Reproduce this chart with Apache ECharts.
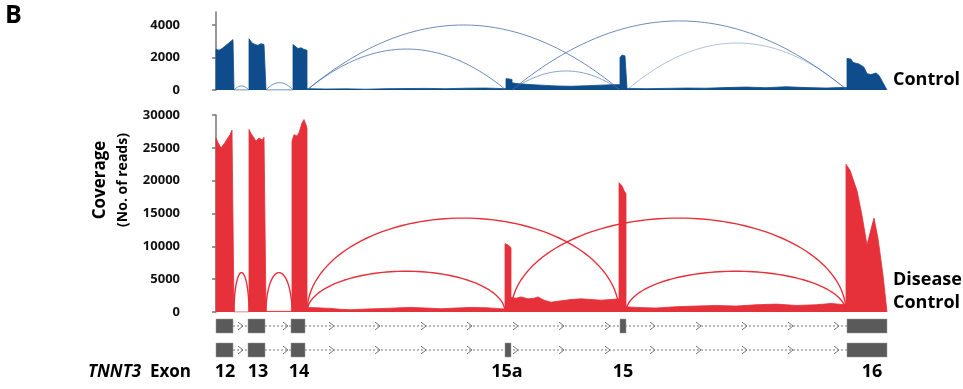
<!DOCTYPE html>
<html>
<head>
<meta charset="utf-8">
<script src="https://cdn.jsdelivr.net/npm/echarts@6/dist/echarts.min.js"></script>
<style>
  html, body { margin: 0; padding: 0; background: #fff; }
  #chart { width: 963px; height: 389px; }
</style>
</head>
<body>
<div id="chart"></div>
<script>
// positions are offsets along the TNNT3 region (exon 12 start = 0)
const controlCoverage = [
  [0,0],[0,2500],[3,2450],[6,2550],[9,2700],[11,2800],[14,2950],[17,3100],[18,3150],[18,0],
  [33,0],[33,3150],[36,2900],[39,2800],[42,2750],[45,2850],[48,2800],[50,2850],[50,0],
  [77,0],[77,2800],[79,2700],[82,2550],[85,2600],[88,2500],[91,2450],[91,80],
  [110,60],[130,70],[150,50],[170,80],[190,90],[210,100],[230,80],[250,110],[270,120],[280,100],[290,80],
  [290,700],[293,680],[296,650],[296,450],[300,400],[310,350],[325,300],[340,250],[355,230],[370,260],[385,300],[395,320],[404,330],
  [404,2000],[406,2150],[409,2100],[411,2000],[411,100],
  [430,80],[450,100],[470,120],[490,110],[510,150],[530,180],[550,140],[570,200],[590,150],[610,120],[625,150],[631,160],
  [631,1950],[635,1900],[637,1700],[643,1600],[648,1400],[651,1000],[655,950],[660,1050],[663,900],[667,450],[671,0]
];
const diseaseCoverage = [
  [0,0],[0,26500],[2,25800],[5,25000],[8,25600],[11,26300],[14,27000],[16,27700],[18,27800],[18,0],
  [33,0],[33,27800],[35,27200],[38,26500],[40,26000],[43,26500],[46,26200],[48,26600],[50,26400],[50,100],
  [76,100],[76,26000],[78,27000],[81,26800],[83,27300],[86,28800],[88,29300],[90,28500],[91,28000],[91,700],
  [100,650],[115,550],[125,400],[135,350],[150,450],[170,550],[185,650],[195,700],[210,600],[225,500],[240,600],[255,700],[270,650],[280,550],[289,450],
  [289,10400],[292,10200],[295,9800],[295,2200],[300,2100],[305,2300],[312,2000],[318,2100],[322,2300],[328,1800],[335,1500],[345,1700],[355,1900],[365,2000],[375,1900],[385,1800],[395,1900],[403,2000],
  [403,19700],[406,19200],[408,18500],[410,18000],[410,800],
  [420,700],[440,600],[460,800],[480,900],[500,1000],[520,900],[540,1100],[560,1200],[580,1000],[600,1100],[615,1300],[630,1100],
  [630,22500],[634,21600],[638,19800],[641,18500],[646,14700],[651,10200],[656,13200],[658,14300],[662,11200],[667,5600],[671,0]
];
// junctions: [from, to, arc height in reads]
const controlJunctions = [[18,33,250],[50,77,450],[91,290,2520],[91,404,4000],[296,404,1170],[296,631,4250],[411,631,2890]];
const controlJunctionShade = [0.8,0.8,0.75,0.75,0.6,0.75,0.4];
const diseaseJunctions = [[18,33,6000],[50,76,6000],[91,289,6200],[91,403,14300],[295,630,14300],[410,630,6200]];

const controlTicks = [0, 2000, 4000];
const diseaseTicks = [0, 5000, 10000, 15000, 20000, 25000, 30000];

const modelRows = ['with15', 'with15a', 'names'];
const exonsWith15 = [[0,17],[32,49],[75,89],[404,410],[631,671]];
const exonsWith15a = [[0,17],[32,49],[75,89],[289,295],[631,671]];
const intronSpan = [17, 631];
const chevronPos = [25,70,116,162,208,254,300,346,392,437,483,529,575,621];
const exonNames = ['12','13','14','15a','15','16'];
const exonNamePos = [9,42,83,291,407,656];

const BLUE = '#0f4c8c';
const RED = '#e6303a';
const FONT = '"Open Sans", sans-serif';

function arcSeries(data, gridIdx, shape, colorFn, width) {
  return {
    type: 'custom', xAxisIndex: gridIdx, yAxisIndex: gridIdx, silent: true, z: 5,
    encode: {x: [0, 1], y: 2},
    data: data,
    renderItem: (params, api) => {
      const a = api.coord([api.value(0), 0]);
      const b = api.coord([api.value(1), 0]);
      const top = api.coord([api.value(0), api.value(2)]);
      const ry = a[1] - top[1];
      const cx = (a[0] + b[0]) / 2, rx = (b[0] - a[0]) / 2;
      const pts = [];
      for (let i = 0; i <= 80; i++) {
        const t = i / 80;
        if (shape === 'ellipse') {
          const th = Math.PI * t;
          pts.push([cx - rx * Math.cos(th), a[1] - ry * Math.sin(th)]);
        } else {
          pts.push([a[0] + (b[0] - a[0]) * t, a[1] - ry * 4 * t * (1 - t)]);
        }
      }
      return {type: 'polyline', shape: {points: pts}, style: {stroke: colorFn(params.dataIndex), fill: null, lineWidth: width}};
    }
  };
}

const yAxisBase = (max, ticks, idx) => ({
  type: 'value', gridIndex: idx, min: 0, max: max,
  splitLine: {show: false},
  axisLine: {show: true, lineStyle: {color: '#777', width: 1.5}},
  axisTick: {show: true, length: 4, customValues: ticks, lineStyle: {color: '#777', width: 1.5}},
  axisLabel: {customValues: ticks, formatter: v => String(v), color: '#111', fontWeight: 'bold', fontSize: 13, fontFamily: FONT, margin: 3}
});

const xAxisBase = idx => ({type: 'value', gridIndex: idx, min: -33, max: 671, show: false});

const geneData = exonsWith15.map(e => [e[0], e[1], 0]).concat(exonsWith15a.map(e => [e[0], e[1], 1]));

const option = {
  animation: false,
  grid: [
    {left: 183, width: 704, top: 12, height: 78},
    {left: 183, width: 704, top: 115, height: 197},
    {left: 183, width: 704, top: 314, height: 72}
  ],
  xAxis: [xAxisBase(0), xAxisBase(1), xAxisBase(2)],
  yAxis: [
    yAxisBase(4800, controlTicks, 0),
    yAxisBase(30000, diseaseTicks, 1),
    {type: 'category', gridIndex: 2, data: modelRows, inverse: true, show: false}
  ],
  series: [
    {
      type: 'line', xAxisIndex: 0, yAxisIndex: 0, data: controlCoverage, symbol: 'none', silent: true,
      lineStyle: {color: BLUE, width: 0.8}, areaStyle: {color: BLUE, opacity: 1}
    },
    {
      type: 'line', xAxisIndex: 1, yAxisIndex: 1, data: diseaseCoverage, symbol: 'none', silent: true,
      lineStyle: {color: RED, width: 0.8}, areaStyle: {color: RED, opacity: 1}
    },
    arcSeries(controlJunctions, 0, 'parabola', i => 'rgba(60,100,165,' + controlJunctionShade[i] + ')', 1),
    arcSeries(diseaseJunctions, 1, 'ellipse', () => RED, 1.4),
    {
      // intron backbone with direction chevrons
      type: 'custom', xAxisIndex: 2, yAxisIndex: 2, silent: true,
      data: [[intronSpan[0], intronSpan[1], 0], [intronSpan[0], intronSpan[1], 1]],
      encode: {x: [0, 1], y: 2},
      renderItem: (params, api) => {
        const row = api.value(2);
        const a = api.coord([api.value(0), row]);
        const b = api.coord([api.value(1), row]);
        const children = [{type: 'line', shape: {x1: a[0], y1: a[1], x2: b[0], y2: b[1]},
          style: {stroke: '#777', lineWidth: 1, lineDash: [2, 2]}}];
        chevronPos.forEach(p => {
          const c = api.coord([p, row]);
          children.push({type: 'polyline', shape: {points: [[c[0] - 3, c[1] - 4], [c[0] + 2, c[1]], [c[0] - 3, c[1] + 4]]},
            style: {stroke: '#777', fill: null, lineWidth: 1}});
        });
        return {type: 'group', children: children};
      }
    },
    {
      type: 'custom', xAxisIndex: 2, yAxisIndex: 2, silent: true, z: 3,
      data: geneData,
      encode: {x: [0, 1], y: 2},
      renderItem: (params, api) => {
        const a = api.coord([api.value(0), api.value(2)]);
        const b = api.coord([api.value(1), api.value(2)]);
        const h = 14;
        return {type: 'rect', shape: {x: a[0], y: a[1] - h / 2, width: b[0] - a[0], height: h},
          style: {fill: '#5a5a5a', stroke: '#9a9a9a', lineWidth: 0.5}};
      }
    },
    {
      type: 'custom', xAxisIndex: 2, yAxisIndex: 2, silent: true,
      data: exonNamePos.map((p, i) => [p, 2, exonNames[i]]),
      encode: {x: 0, y: 1},
      renderItem: (params, api) => {
        const c = api.coord([api.value(0), 2]);
        return {type: 'text', x: c[0], y: c[1] - 2,
          style: {text: exonNames[params.dataIndex], fill: '#000', font: 'bold 18px ' + FONT, align: 'center', verticalAlign: 'middle'}};
      }
    }
  ],
  graphic: [
    {type: 'text', left: 5, top: 3, style: {text: 'B', fill: '#000', font: 'bold 25px ' + FONT}},
    {type: 'text', x: 100, y: 180, rotation: Math.PI / 2, style: {text: 'Coverage', fill: '#000', font: 'bold 17px ' + FONT, align: 'center', verticalAlign: 'middle'}},
    {type: 'text', x: 123, y: 180, rotation: Math.PI / 2, style: {text: '(No. of reads)', fill: '#000', font: 'bold 14px ' + FONT, align: 'center', verticalAlign: 'middle'}},
    {type: 'text', x: 893, y: 80, style: {text: 'Control', fill: '#000', font: 'bold 18px ' + FONT, verticalAlign: 'middle'}},
    {type: 'text', x: 893, y: 280, style: {text: 'Disease', fill: '#000', font: 'bold 18px ' + FONT, verticalAlign: 'middle'}},
    {type: 'text', x: 893, y: 303, style: {text: 'Control', fill: '#000', font: 'bold 18px ' + FONT, verticalAlign: 'middle'}},
    {type: 'text', x: 88, y: 372, style: {text: 'TNNT3', fill: '#000', font: 'italic bold 17px ' + FONT, verticalAlign: 'middle'}},
    {type: 'text', x: 150, y: 372, style: {text: 'Exon', fill: '#000', font: 'bold 17px ' + FONT, verticalAlign: 'middle'}}
  ]
};

const chart = echarts.init(document.getElementById('chart'));
chart.setOption(option);
</script>
</body>
</html>
